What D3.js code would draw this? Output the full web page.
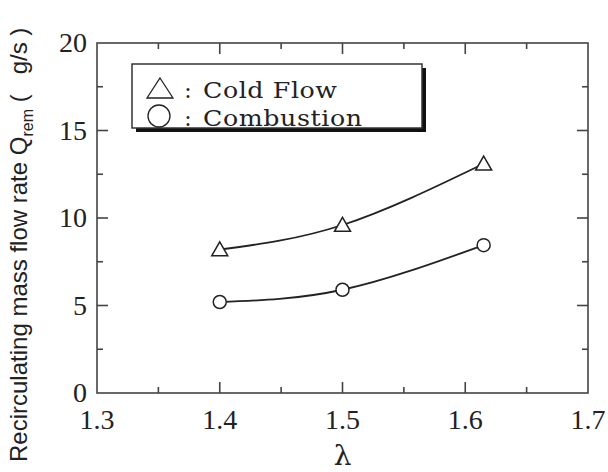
<!DOCTYPE html>
<meta charset="utf-8">
<style>
body {
  margin: 0;
  background: #fff;
}
.tick-label {
  font-family: "Liberation Serif", "Times New Roman", serif;
  font-size: 28px;
  fill: #222;
}
.frame line, .frame rect {
  stroke: #444;
  stroke-width: 1.6;
}
</style>
<body>
<script src="https://cdn.jsdelivr.net/npm/d3@7"></script>
<script>

var width = 608,
    height = 472;

// data
var lambda = [1.4, 1.5, 1.615];
var coldFlow = [8.2, 9.6, 13.1];
var combustion = [5.2, 5.9, 8.45];

var xTicks = [1.3, 1.4, 1.5, 1.6, 1.7];
var xMinor = [1.35, 1.45, 1.55, 1.65];
var yTicks = [0, 5, 10, 15, 20];
var yMinor = [2.5, 7.5, 12.5, 17.5];

var plotLeft = 97, plotRight = 588, plotTop = 43, plotBottom = 393;

var x = d3.scaleLinear().domain([1.3, 1.7]).range([plotLeft, plotRight]);
var y = d3.scaleLinear().domain([0, 20]).range([plotBottom, plotTop]);

var svg = d3.select("body").append("svg")
    .attr("width", width)
    .attr("height", height);

var frame = svg.append("g").attr("class", "frame");

frame.append("rect")
    .attr("x", plotLeft)
    .attr("y", plotTop)
    .attr("width", plotRight - plotLeft)
    .attr("height", plotBottom - plotTop)
    .attr("fill", "none");

// ticks point inward on all four sides
function xTick(v, len) {
  frame.append("line").attr("x1", x(v)).attr("x2", x(v)).attr("y1", plotBottom).attr("y2", plotBottom - len);
  frame.append("line").attr("x1", x(v)).attr("x2", x(v)).attr("y1", plotTop).attr("y2", plotTop + len);
}
function yTick(v, len) {
  frame.append("line").attr("x1", plotLeft).attr("x2", plotLeft + len).attr("y1", y(v)).attr("y2", y(v));
  frame.append("line").attr("x1", plotRight).attr("x2", plotRight - len).attr("y1", y(v)).attr("y2", y(v));
}
xTicks.slice(1, -1).forEach(function(v) { xTick(v, 11); });
xMinor.forEach(function(v) { xTick(v, 6); });
yTicks.slice(1, -1).forEach(function(v) { yTick(v, 11); });
yMinor.forEach(function(v) { yTick(v, 6); });

svg.selectAll(".xlab")
    .data(xTicks)
  .enter().append("text")
    .attr("class", "tick-label")
    .attr("x", function(d) { return x(d); })
    .attr("y", 429)
    .attr("text-anchor", "middle")
    .text(function(d) { return d3.format(".1f")(d); });

svg.selectAll(".ylab")
    .data(yTicks)
  .enter().append("text")
    .attr("class", "tick-label")
    .attr("x", 87)
    .attr("y", function(d) { return y(d) + 9; })
    .attr("text-anchor", "end")
    .text(function(d) { return d; });

// axis titles
svg.append("text")
    .attr("x", x(1.5))
    .attr("y", 465)
    .attr("text-anchor", "middle")
    .style("font-family", "'DejaVu Serif', serif")
    .style("font-size", "28px")
    .attr("fill", "#222")
    .text("λ");

var ytitle = svg.append("text")
    .attr("transform", "translate(27,462) rotate(-90)")
    .style("font-family", "'Liberation Sans', Arial, sans-serif")
    .style("font-size", "24px")
    .attr("fill", "#222");
ytitle.append("tspan").text("Recirculating mass flow rate Q");
ytitle.append("tspan").attr("dy", 6).style("font-size", "16px").text("rem");
ytitle.append("tspan").attr("dy", -6).attr("xml:space", "preserve").text(" (   g/s )");

// curves and markers
var line = d3.line()
    .x(function(d) { return x(d[0]); })
    .y(function(d) { return y(d[1]); })
    .curve(d3.curveNatural);

var series = [
  {name: "Cold Flow", values: coldFlow, symbol: "triangle"},
  {name: "Combustion", values: combustion, symbol: "circle"}
];

function marker(g, symbol, cx, cy, s) {
  if (symbol === "triangle") {
    var h = s * 0.87;
    g.append("path")
        .attr("d", "M" + cx + "," + (cy - h * 0.55) +
                   "L" + (cx + s / 2) + "," + (cy + h * 0.45) +
                   "L" + (cx - s / 2) + "," + (cy + h * 0.45) + "Z")
        .attr("fill", "#fff")
        .attr("stroke", "#222")
        .attr("stroke-width", 1.5);
  } else {
    g.append("circle")
        .attr("cx", cx)
        .attr("cy", cy)
        .attr("r", s / 2)
        .attr("fill", "#fff")
        .attr("stroke", "#222")
        .attr("stroke-width", 1.5);
  }
}

series.forEach(function(s) {
  var pts = lambda.map(function(l, i) { return [l, s.values[i]]; });
  svg.append("path")
      .datum(pts)
      .attr("d", line)
      .attr("fill", "none")
      .attr("stroke", "#222")
      .attr("stroke-width", 1.8);
  var g = svg.append("g");
  pts.forEach(function(p) {
    marker(g, s.symbol, x(p[0]), y(p[1]), s.symbol === "triangle" ? 16 : 13);
  });
});

// legend box with drop shadow
var lg = svg.append("g");
lg.append("rect")
    .attr("x", 136).attr("y", 68)
    .attr("width", 290).attr("height", 64)
    .attr("fill", "#111");
lg.append("rect")
    .attr("x", 132).attr("y", 64)
    .attr("width", 290).attr("height", 64)
    .attr("fill", "#fff")
    .attr("stroke", "#333")
    .attr("stroke-width", 1.5);

var stretch = 1.15;
series.forEach(function(s, i) {
  var cy = i === 0 ? 88 : 116;
  var base = i === 0 ? 98 : 126;
  if (s.symbol === "triangle") {
    lg.append("path")
        .attr("d", "M160,78L173,98L147,98Z")
        .attr("fill", "none")
        .attr("stroke", "#222")
        .attr("stroke-width", 1.3);
  } else {
    lg.append("circle")
        .attr("cx", 159).attr("cy", cy)
        .attr("r", 11)
        .attr("fill", "none")
        .attr("stroke", "#222")
        .attr("stroke-width", 1.3);
  }
  lg.append("text")
      .attr("x", 188)
      .attr("y", base)
      .attr("text-anchor", "middle")
      .style("font-family", "'DejaVu Serif', serif")
      .style("font-size", "22px")
      .attr("fill", "#222")
      .text(":");
  lg.append("text")
      .attr("transform", "translate(203," + base + ") scale(" + stretch + ",1)")
      .attr("textLength", (i === 0 ? 134 : 159) / stretch)
      .attr("lengthAdjust", "spacing")
      .style("font-family", "'DejaVu Serif', serif")
      .style("font-size", "22px")
      .attr("fill", "#222")
      .text(s.name);
});

</script>
